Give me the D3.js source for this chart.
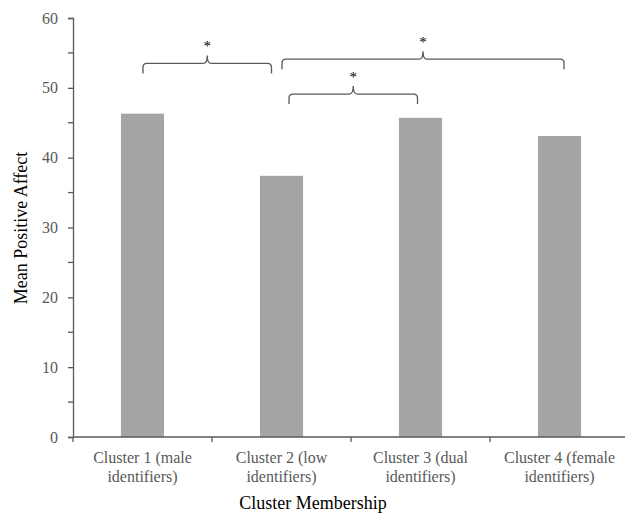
<!DOCTYPE html>
<html>
<head>
<meta charset="utf-8">
<script src="https://cdn.jsdelivr.net/npm/d3@7"></script>
<style>
  body { margin: 0; background: #fff; }
  svg text { font-family: "Liberation Serif", Tinos, "Times New Roman", "DejaVu Serif", serif !important; }
</style>
</head>
<body>
<script>
// Data
var categories = ["Cluster 1 (male identifiers)", "Cluster 2 (low identifiers)", "Cluster 3 (dual identifiers)", "Cluster 4 (female identifiers)"];
var labelLines = [["Cluster 1 (male", "identifiers)"], ["Cluster 2 (low", "identifiers)"], ["Cluster 3 (dual", "identifiers)"], ["Cluster 4 (female", "identifiers)"]];
var values = [46.3, 37.4, 45.7, 43.1];
var yTicks = [0, 10, 20, 30, 40, 50, 60];
var yMinorTicks = [5, 15, 25, 35, 45, 55];
// significant comparisons: from category, to category, brace level (y units)
var sigFrom = [0, 1, 1];
var sigTo = [1, 3, 2];
var sigLevel = [53.5, 54.1, 49.1];

var width = 625, height = 517;
var margin = { left: 73, top: 18, bottom: 80 };
var plotH = 437 - 18;

var svg = d3.select("body")
    .append("svg")
    .attr("width", width)
    .attr("height", height);

var g = svg.append("g")
    .attr("transform", "translate(" + margin.left + ", " + margin.top + ")");

// SCALES
var x = d3.scaleBand()
    .domain(categories)
    .range([0, 556])
    .paddingInner(0.69)
    .paddingOuter(0.345);

var y = d3.scaleLinear()
    .domain([0, 60])
    .range([plotH, 0]);

// bars
g.selectAll("rect.bar").data(values)
    .enter()
    .append("rect")
    .attr("class", "bar")
    .attr("x", function (d, i) { return x(categories[i]); })
    .attr("y", function (d) { return y(d); })
    .attr("width", x.bandwidth())
    .attr("height", function (d) { return plotH - y(d); })
    .attr("fill", "#a5a5a5");

var axisColor = "#595959";

// y axis
var leftAxis = d3.axisLeft(y).tickValues(yTicks).tickSize(5).tickPadding(10).tickFormat(d3.format("d"));
var ya = g.append("g").attr("class", "left axis").call(leftAxis);
ya.select(".domain").attr("stroke", axisColor).attr("stroke-width", 1.3);
ya.selectAll(".tick line").attr("stroke", axisColor).attr("stroke-width", 1.3);
ya.selectAll(".tick text").attr("fill", axisColor).attr("font-size", "16px");

g.selectAll("line.minor").data(yMinorTicks)
    .enter()
    .append("line")
    .attr("class", "minor")
    .attr("x1", -5).attr("x2", 0)
    .attr("y1", function (d) { return y(d); })
    .attr("y2", function (d) { return y(d); })
    .attr("stroke", axisColor)
    .attr("stroke-width", 1.3);

// x axis (category boundaries)
var bandEdges = categories.map(function (c, i) { return i * x.step(); });
g.append("line")
    .attr("x1", 0).attr("x2", 556)
    .attr("y1", plotH).attr("y2", plotH)
    .attr("stroke", axisColor).attr("stroke-width", 1.3);
g.selectAll("line.xtick").data(bandEdges)
    .enter()
    .append("line")
    .attr("class", "xtick")
    .attr("x1", function (d) { return d; })
    .attr("x2", function (d) { return d; })
    .attr("y1", plotH).attr("y2", plotH + 5)
    .attr("stroke", axisColor).attr("stroke-width", 1.3);

// category labels
var lab = g.selectAll("text.cat").data(labelLines)
    .enter()
    .append("text")
    .attr("class", "cat")
    .attr("text-anchor", "middle")
    .attr("fill", axisColor)
    .attr("font-size", "16px")
    .attr("transform", function (d, i) {
        return "translate(" + (x(categories[i]) + x.bandwidth() / 2) + "," + (plotH + 26) + ")";
    });
lab.selectAll("tspan").data(function (d) { return d; })
    .enter()
    .append("tspan")
    .attr("x", 0)
    .attr("dy", function (d, i) { return i === 0 ? 0 : 19; })
    .text(function (d) { return d; });

// axis titles
svg.append("text")
    .attr("x", 313)
    .attr("y", 509)
    .attr("text-anchor", "middle")
    .attr("font-size", "18px")
    .attr("fill", "#000")
    .text("Cluster Membership");

svg.append("text")
    .attr("transform", "translate(27, 228) rotate(-90)")
    .attr("text-anchor", "middle")
    .attr("font-size", "18px")
    .attr("fill", "#000")
    .text("Mean Positive Affect");

// significance braces
var startOff = [0.5, 0.5, 7.5];
var endOff = [-10, 4.5, -3];
function bracePath(x1, x2, yl) {
    var xm = (x1 + x2) / 2, r = 4;
    var yb = yl + 10;
    return "M" + x1 + "," + yb +
        " L" + x1 + "," + (yl + r) +
        " Q" + x1 + "," + yl + " " + (x1 + r) + "," + yl +
        " L" + (xm - 4) + "," + yl +
        " Q" + xm + "," + yl + " " + xm + "," + (yl - 8) +
        " Q" + xm + "," + yl + " " + (xm + 4) + "," + yl +
        " L" + (x2 - r) + "," + yl +
        " Q" + x2 + "," + yl + " " + x2 + "," + (yl + r) +
        " L" + x2 + "," + yb;
}
sigFrom.forEach(function (f, i) {
    var x1 = x(categories[f]) + x.bandwidth() / 2 + startOff[i];
    var x2 = x(categories[sigTo[i]]) + x.bandwidth() / 2 + endOff[i];
    var yl = y(sigLevel[i]);
    g.append("path")
        .attr("d", bracePath(x1, x2, yl))
        .attr("fill", "none")
        .attr("stroke", axisColor)
        .attr("stroke-width", 1.3);
    g.append("text")
        .attr("x", (x1 + x2) / 2)
        .attr("y", yl - 12)
        .attr("text-anchor", "middle")
        .attr("font-size", "15px")
        .attr("fill", "#000")
        .text("*");
});
</script>
</body>
</html>
